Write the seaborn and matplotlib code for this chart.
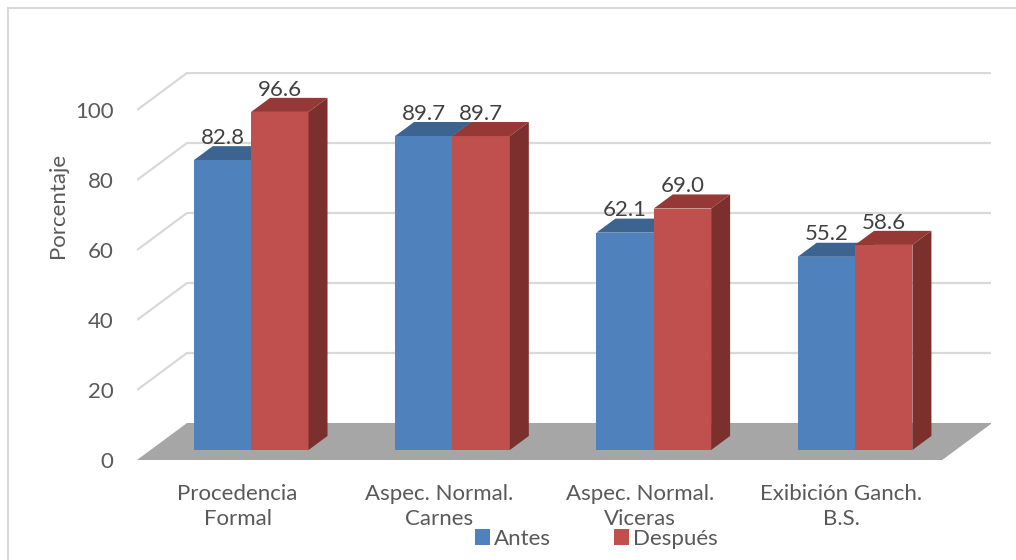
import matplotlib
matplotlib.use("Agg")
import matplotlib.pyplot as plt
from matplotlib.patches import Polygon, Rectangle
import seaborn as sns
import pandas as pd

categories = ["Procedencia\nFormal", "Aspec. Normal.\nCarnes", "Aspec. Normal.\nViceras", "Exibición Ganch.\nB.S."]
antes = [82.8, 89.7, 62.1, 55.2]
despues = [96.6, 89.7, 69.0, 58.6]
series = ["Antes", "Después"]
yticks = [0, 20, 40, 60, 80, 100]
ylabel = "Porcentaje"

front_colors = {"Antes": "#4F81BD", "Después": "#C0504D"}
top_colors = {"Antes": "#3D6391", "Después": "#953836"}
side_colors = {"Antes": "#34547C", "Después": "#7B302E"}

sns.set_theme(style="white")
plt.rcParams["font.family"] = ["Lato", "DejaVu Sans"]
TXT = "#595959"
FS = 16

W, H = 1016, 560
fig = plt.figure(figsize=(W / 100, H / 100), dpi=100)

# axes spans the front floor edge (left) to the back wall (right/top)
x_left, x_right, y_base, y_top = 137, 991, 460, 72
px_per_cat, px_per_val = 201.3, 3.5
ax = fig.add_axes([x_left / W, (H - y_base) / H, (x_right - x_left) / W, (y_base - y_top) / H])
XLIM = (-0.5, -0.5 + (x_right - x_left) / px_per_cat)
YLIM = (0, (y_base - y_top) / px_per_val)

# oblique depth offset of the floor in data units
DX = 50 / px_per_cat
DY = 37 / px_per_val
bar_front = 0.27   # depth where the bar fronts stand
bar_depth = 0.38   # depth of each bar
n = len(categories)

df = pd.DataFrame({
    "cat": categories * 2,
    "serie": [series[0]] * n + [series[1]] * n,
    "valor": antes + despues,
})
sns.barplot(data=df, x="cat", y="valor", hue="serie", hue_order=series,
            palette=front_colors, width=0.57, ax=ax, legend=False,
            saturation=1, edgecolor="none", zorder=3)
ax.set_xlim(*XLIM)
ax.set_ylim(*YLIM)

# back wall gridlines with their diagonal on the side wall
for v in yticks[1:]:
    ax.plot([-0.5, -0.5 + DX, XLIM[1]], [v, v + DY, v + DY],
            color="#D9D9D9", lw=1.6, zorder=0, solid_capstyle="butt")

# floor
ax.add_patch(Polygon([(-0.5, 0), (n - 0.5, 0), (n - 0.5 + DX, DY), (-0.5 + DX, DY)],
                     closed=True, facecolor="#A6A6A6", edgecolor="none", zorder=1))

ox, oy = bar_front * DX, bar_front * DY
bx, by = bar_depth * DX, bar_depth * DY
for k, s in enumerate(series):
    vals = antes if k == 0 else despues
    container = ax.containers[k]
    zf = 2 if k == 0 else 4
    for patch, v in zip(container.patches, vals):
        patch.set_x(patch.get_x() + ox)
        patch.set_y(oy)
        patch.set_height(v)
        patch.set_zorder(3)
        x0 = patch.get_x()
        x1 = x0 + patch.get_width()
        y0, y1 = oy, oy + v
        top = Polygon([(x0, y1), (x1, y1), (x1 + bx, y1 + by), (x0 + bx, y1 + by)],
                      closed=True, facecolor=top_colors[s], edgecolor="none", zorder=zf)
        side = Polygon([(x1, y0), (x1, y1), (x1 + bx, y1 + by), (x1 + bx, y0 + by)],
                       closed=True, facecolor=side_colors[s], edgecolor="none", zorder=zf)
        ax.add_patch(top)
        ax.add_patch(side)
        ax.text((x0 + x1) / 2, y1 + by - 0.5, f"{v:.1f}", ha="center", va="bottom",
                fontsize=FS, color="#404040", zorder=5)

for sp in ax.spines.values():
    sp.set_visible(False)
ax.set_xticks(range(n))
ax.set_xticklabels(categories, fontsize=FS, color=TXT, linespacing=1.35)
ax.set_yticks(yticks)
ax.set_yticklabels([str(t) for t in yticks], fontsize=FS, color=TXT)
ax.tick_params(axis="both", length=0)
ax.tick_params(axis="y", pad=17)
ax.tick_params(axis="x", pad=17)
ax.set_xlabel("")
ax.set_ylabel(ylabel, fontsize=FS, color=TXT, labelpad=5, y=0.655)
ax.grid(False)
ax.patch.set_alpha(0)

# legend
handles = [Rectangle((0, 0), 1, 1, facecolor=front_colors[s], edgecolor="none") for s in series]
fig.legend(handles, series, loc="center", bbox_to_anchor=(596 / W, 1 - 539 / H), ncol=2,
           frameon=False, fontsize=FS, labelcolor=TXT, handlelength=0.7, handleheight=0.7,
           handletextpad=0.15, columnspacing=2.85, borderpad=0)

# chart frame
fig.patches.append(Rectangle((8 / W, -0.05), 1.1, 1 - 8 / H + 0.05, transform=fig.transFigure,
                             facecolor="none", edgecolor="#D9D9D9", lw=1.5, zorder=0))

fig.savefig("out.png", dpi=100)
